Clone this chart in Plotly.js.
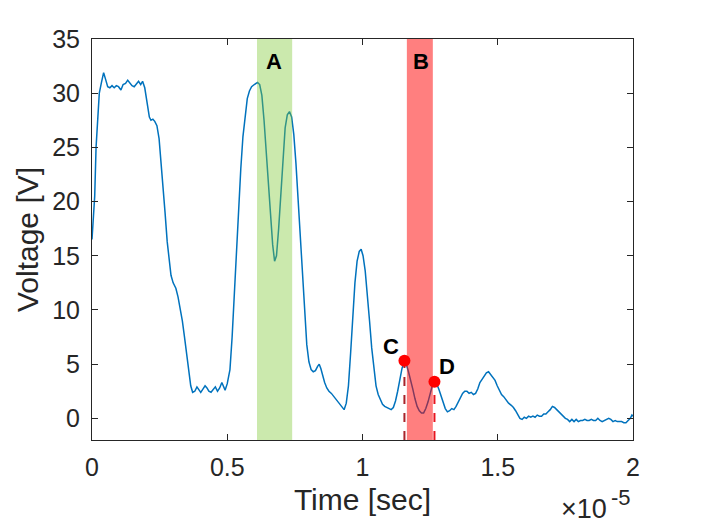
<!DOCTYPE html>
<html>
<head>
<meta charset="utf-8">
<script src="https://cdn.plot.ly/plotly-3.0.1.min.js"></script>
<style>html,body{margin:0;padding:0;background:#fff;}#chart{width:701px;height:525px;}</style>
</head>
<body>
<div id="chart"></div>
<script>
// Time in units of 1e-5 s
const time = [0.000,0.005,0.010,0.015,0.020,0.027,0.035,0.043,0.050,0.058,0.066,0.074,0.082,0.090,0.098,0.107,0.115,0.124,0.132,0.140,0.148,0.156,0.165,0.172,0.180,0.187,0.195,0.200,0.206,0.212,0.218,0.225,0.232,0.240,0.248,0.255,0.262,0.270,0.278,0.285,0.292,0.300,0.310,0.318,0.326,0.334,0.342,0.350,0.358,0.365,0.372,0.380,0.388,0.395,0.402,0.410,0.418,0.425,0.432,0.440,0.448,0.456,0.464,0.472,0.480,0.486,0.492,0.500,0.510,0.518,0.526,0.534,0.542,0.550,0.558,0.566,0.574,0.582,0.590,0.600,0.612,0.620,0.628,0.636,0.644,0.652,0.660,0.668,0.675,0.682,0.690,0.698,0.706,0.714,0.722,0.730,0.738,0.746,0.754,0.762,0.770,0.778,0.786,0.794,0.802,0.810,0.818,0.826,0.834,0.840,0.846,0.852,0.860,0.868,0.876,0.885,0.895,0.905,0.915,0.925,0.932,0.940,0.948,0.956,0.964,0.972,0.980,0.988,0.995,1.002,1.010,1.018,1.026,1.034,1.042,1.050,1.058,1.066,1.074,1.082,1.090,1.098,1.106,1.114,1.122,1.130,1.138,1.146,1.155,1.162,1.170,1.178,1.186,1.194,1.202,1.210,1.218,1.226,1.234,1.242,1.250,1.258,1.266,1.274,1.282,1.290,1.298,1.306,1.314,1.322,1.330,1.338,1.346,1.354,1.362,1.370,1.378,1.386,1.394,1.402,1.410,1.418,1.426,1.434,1.442,1.450,1.458,1.466,1.474,1.482,1.490,1.498,1.506,1.514,1.522,1.530,1.540,1.550,1.558,1.566,1.574,1.582,1.590,1.598,1.606,1.614,1.622,1.630,1.638,1.646,1.654,1.662,1.670,1.678,1.686,1.694,1.702,1.710,1.718,1.726,1.734,1.742,1.750,1.758,1.766,1.774,1.782,1.790,1.798,1.806,1.814,1.822,1.830,1.838,1.846,1.854,1.862,1.870,1.878,1.886,1.894,1.902,1.910,1.918,1.926,1.934,1.942,1.950,1.958,1.966,1.974,1.982,1.990,1.996,2.000];
const voltage = [16.5,18.5,20.5,25.0,27.0,30.0,31.0,31.9,31.3,30.6,30.5,30.7,30.5,30.7,30.6,30.3,30.8,30.9,31.2,30.9,30.7,30.6,30.9,31.1,30.8,31.1,30.5,29.8,28.8,27.8,27.5,27.6,27.4,27.0,25.8,23.8,21.5,19.0,16.3,14.5,13.2,12.5,12.0,11.2,10.2,9.0,7.5,6.0,4.4,3.0,2.4,2.5,2.9,2.6,2.4,2.7,3.0,2.8,2.5,2.4,2.7,2.9,2.5,2.8,3.3,3.0,2.6,3.2,4.5,7.5,11.5,15.5,19.5,23.0,26.0,28.0,29.5,30.2,30.6,30.8,31.0,30.8,29.8,27.5,24.5,21.5,18.5,16.0,14.5,15.0,17.5,21.0,24.5,26.8,28.0,28.3,27.8,26.2,23.5,20.0,16.5,13.0,9.5,6.8,5.2,4.5,4.3,4.4,4.8,5.0,4.6,4.0,3.3,2.8,2.5,2.3,2.0,1.7,1.4,1.0,0.8,1.4,3.0,6.0,9.5,12.5,14.5,15.4,15.6,15.0,13.6,11.5,9.0,6.5,4.4,3.0,2.2,1.7,1.3,1.1,1.0,0.9,0.8,1.0,1.6,2.5,3.6,4.6,5.3,5.0,4.3,3.6,2.7,1.8,1.1,0.7,0.5,0.5,0.9,1.5,2.3,3.0,3.4,3.2,2.7,2.1,1.5,0.9,0.6,0.7,0.9,0.8,1.1,1.5,1.9,2.3,2.5,2.5,2.3,2.4,2.2,2.3,2.7,3.3,3.6,3.9,4.2,4.3,4.0,3.7,3.5,3.0,2.6,2.2,2.0,1.7,1.4,1.2,1.0,0.7,0.3,0.0,-0.1,0.1,0.0,0.2,0.1,0.2,0.1,0.3,0.2,0.2,0.4,0.4,0.6,0.8,1.1,1.0,0.8,0.6,0.4,0.2,0.0,-0.1,-0.3,-0.1,-0.3,-0.1,-0.3,-0.2,-0.2,-0.1,-0.2,-0.2,-0.1,-0.2,-0.2,0.0,-0.2,-0.3,-0.2,-0.1,0.0,-0.1,-0.3,-0.2,-0.3,-0.3,-0.3,-0.4,-0.4,-0.2,0.0,0.3,0.2];

// Highlighted windows (units of 1e-5 s)
const bandLabels = ["A","B"];
const bandStart = [0.610, 1.164];
const bandEnd = [0.740, 1.260];

// Marked points
const pointLabels = ["C","D"];
const pointTime = [1.155, 1.266];
const pointVolt = [5.31, 3.37];

const xTicks = [0, 0.5, 1, 1.5, 2];
const xTickText = ["0","0.5","1","1.5","2"];
const yTicks = [0,5,10,15,20,25,30,35];

const yMin = -2, yMax = 35;
const FONT = "Liberation Sans, Arial, sans-serif";
const AX = "#262626";

const traces = [
  {x: time, y: voltage, type: "scatter", mode: "lines",
   line: {color: "#0072BD", width: 1.5}, hoverinfo: "skip"},
  {x: [pointTime[0], pointTime[0]], y: [yMin, pointVolt[0]], type: "scatter", mode: "lines",
   line: {color: "#a8242a", width: 2, dash: "dash"}, hoverinfo: "skip"},
  {x: [pointTime[1], pointTime[1]], y: [yMin, pointVolt[1]], type: "scatter", mode: "lines",
   line: {color: "#e8141e", width: 2, dash: "dash"}, hoverinfo: "skip"},
  {x: pointTime, y: pointVolt, type: "scatter", mode: "markers",
   marker: {color: "#ff0000", size: 12}, hoverinfo: "skip"}
];

const bandColors = ["rgba(125,200,50,0.4)", "rgba(255,0,0,0.5)"];
const shapes = bandStart.map((s, i) => ({
  type: "rect", xref: "x", yref: "paper", x0: s, x1: bandEnd[i], y0: 0, y1: 1,
  fillcolor: bandColors[i], line: {width: 0}, layer: "above"
}));

const annotations = [
  {text: bandLabels[0], x: 0.673, y: 32.9},
  {text: bandLabels[1], x: 1.216, y: 32.9},
  {text: pointLabels[0], x: 1.105, y: 6.6},
  {text: pointLabels[1], x: 1.312, y: 4.77}
].map(a => Object.assign({xref: "x", yref: "y", showarrow: false,
  font: {family: FONT, size: 22, color: "#000000", weight: "bold"}}, a,
  {text: "<b>" + a.text + "</b>"}));

// Exponent label (×10^-5) below the lower-right corner
annotations.push({
  text: "×10", xref: "x", yref: "paper", x: 2, y: 0,
  xanchor: "right", yanchor: "middle", xshift: -24, yshift: -69, showarrow: false,
  font: {family: FONT, size: 27, color: AX}
});
annotations.push({
  text: "-5", xref: "x", yref: "paper", x: 2, y: 0,
  xanchor: "left", yanchor: "middle", xshift: -24, yshift: -57, showarrow: false,
  font: {family: FONT, size: 22, color: AX}
});

const layout = {
  width: 701, height: 525,
  margin: {l: 92, r: 68, t: 39, b: 85, pad: 0},
  paper_bgcolor: "#ffffff", plot_bgcolor: "#ffffff",
  showlegend: false,
  font: {family: FONT, color: AX},
  xaxis: {
    range: [0, 2], tickvals: xTicks, ticktext: xTickText,
    ticks: "inside", ticklen: 6, tickwidth: 1, tickcolor: AX,
    showline: true, linecolor: AX, linewidth: 1, mirror: "ticks",
    showgrid: false, zeroline: false, ticklabelstandoff: 5,
    tickfont: {family: FONT, size: 25, color: AX},
    title: {text: "Time [sec]", font: {family: FONT, size: 30, color: AX}, standoff: 8}
  },
  yaxis: {
    range: [yMin, yMax], tickvals: yTicks,
    ticks: "inside", ticklen: 6, tickwidth: 1, tickcolor: AX,
    showline: true, linecolor: AX, linewidth: 1, mirror: "ticks",
    showgrid: false, zeroline: false, ticklabelstandoff: 6,
    tickfont: {family: FONT, size: 25, color: AX},
    title: {text: "Voltage [V]", font: {family: FONT, size: 30, color: AX}, standoff: 4}
  },
  shapes: shapes,
  annotations: annotations
};

Plotly.newPlot("chart", traces, layout, {staticPlot: true, displayModeBar: false});
</script>
</body>
</html>
